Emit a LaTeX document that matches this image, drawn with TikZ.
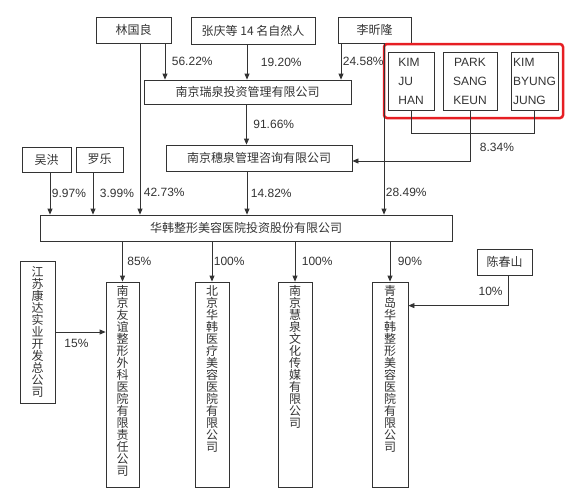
\documentclass[tikz,border=0pt]{standalone}
\usepackage{fontspec}
\setmainfont{Liberation Sans}
\newfontfamily\cjk{Noto Sans CJK SC}
\usetikzlibrary{arrows.meta}
\definecolor{linegray}{RGB}{51,51,51}
\definecolor{markred}{RGB}{230,30,35}

\begin{document}
\begin{tikzpicture}[x=1pt, y=-1pt, >={Triangle[length=6pt,width=5pt]},
    box/.style={draw=linegray, line width=0.8pt, inner sep=0pt, text=linegray, font=\cjk\fontsize{12}{12}\selectfont},
    namebox/.style={draw=linegray, line width=0.8pt, inner sep=0pt, text=linegray, font=\fontsize{12}{19}\selectfont, minimum height=58pt},
    vtext/.style={inner sep=0pt, align=center, text=linegray, font=\cjk\fontsize{12}{12}\selectfont},
    pct/.style={text=linegray, font=\fontsize{12}{12}\selectfont, inner sep=1.5pt},
    ln/.style={draw=linegray, line width=0.8pt},
    arr/.style={->, draw=linegray, line width=0.8pt}]
      \useasboundingbox (0,0) rectangle (567,501);

      % Top shareholders
      \node[box, minimum width=75pt, minimum height=26pt] (lgl) at (133.5,30) {林国良};
      \node[box, minimum width=124pt, minimum height=27pt] (zq) at (253,30.5) {张庆等 14 名自然人};
      \node[box, minimum width=73pt, minimum height=26pt] (lxl) at (374.5,30) {李昕隆};

      % Korean shareholders
      \node[namebox, minimum width=46pt, align=left] (kjh) at (411,81) {KIM\\JU\\HAN};
      \node[namebox, minimum width=54pt, align=center] (psk) at (470,81) {PARK\\SANG\\KEUN};
      \node[namebox, minimum width=47pt, align=left] (kbj) at (534.5,81) {KIM\\BYUNG\\JUNG};
      \draw[markred, line width=2.5pt, rounded corners=3pt] (384,44) rectangle (563,118);

      % Holding companies
      \node[box, minimum width=207pt, minimum height=24pt] (rq) at (247.5,92) {南京瑞泉投资管理有限公司};
      \node[box, minimum width=186pt, minimum height=26pt] (sq) at (259,158) {南京穗泉管理咨询有限公司};
      \node[box, minimum width=49pt, minimum height=25pt] (wh) at (46.5,159.5) {吴洪};
      \node[box, minimum width=47pt, minimum height=25pt] (ll) at (99.5,159.5) {罗乐};

      % Main company
      \node[box, minimum width=412pt, minimum height=26pt] (hh) at (246,228) {华韩整形美容医院投资股份有限公司};

      % Subsidiaries
      \node[box, minimum width=35pt, minimum height=142pt, align=center] (js) at (37.5,332) {江\\苏\\康\\达\\实\\业\\开\\发\\总\\公\\司};
      \node[box, minimum width=33pt, minimum height=205pt] (yy) at (122.5,384.5) {};
      \node[box, minimum width=34pt, minimum height=205pt] (bj) at (212,384.5) {};
      \node[box, minimum width=34pt, minimum height=205pt] (hq) at (295,384.5) {};
      \node[box, minimum width=36pt, minimum height=205pt] (qd) at (390,384.5) {};
      \node[box, minimum width=55pt, minimum height=26pt] (cs) at (504.5,262) {陈春山};
      \node[vtext, anchor=north] (yyt) at ([yshift=-4pt]yy.north) {南\\京\\友\\谊\\整\\形\\外\\科\\医\\院\\有\\限\\责\\任\\公\\司};
      \node[vtext, anchor=north] (bjt) at ([yshift=-4pt]bj.north) {北\\京\\华\\韩\\医\\疗\\美\\容\\医\\院\\有\\限\\公\\司};
      \node[vtext, anchor=north] (hqt) at ([yshift=-4pt]hq.north) {南\\京\\慧\\泉\\文\\化\\传\\媒\\有\\限\\公\\司};
      \node[vtext, anchor=north] (qdt) at ([yshift=-4pt]qd.north) {青\\岛\\华\\韩\\整\\形\\美\\容\\医\\院\\有\\限\\公\\司};

      % Shares of Ruiquan
      \draw[arr] ([xshift=31.5pt]lgl.south) -- ([xshift=31.5pt]lgl.south |- rq.north) node[pct, midway, right, xshift=5pt] {56.22\%};
      \draw[arr] ([xshift=-6pt]zq.south) -- ([xshift=-6pt]zq.south |- rq.north) node[pct, midway, right, xshift=12pt] {19.20\%};
      \draw[arr] ([xshift=-33.5pt]lxl.south) -- ([xshift=-33.5pt]lxl.south |- rq.north) node[pct, midway, right] {24.58\%};
      \draw[arr] ([xshift=-1pt]rq.south) -- ([xshift=-1pt]rq.south |- sq.north) node[pct, midway, right, xshift=5pt] {91.66\%};

      % Korean shares of Suiquan
      \draw[ln] (kjh.south) -- ++(0,23) -| (kbj.south);
      \draw[arr] (psk.south) |- ([yshift=-3pt]sq.east) node[pct, pos=0.37, right, xshift=8pt] {8.34\%};

      % Shares of the main company
      \draw[arr] ([xshift=3.5pt]wh.south) -- ([xshift=3.5pt]wh.south |- hh.north) node[pct, midway, right] {9.97\%};
      \draw[arr] ([xshift=-6.5pt]ll.south) -- ([xshift=-6.5pt]ll.south |- hh.north) node[pct, midway, right, xshift=5pt] {3.99\%};
      \draw[arr] ([xshift=6.5pt]lgl.south) -- ([xshift=6.5pt]lgl.south |- hh.north) node[pct, pos=0.87, right, xshift=2pt] {42.73\%};
      \draw[arr] ([xshift=-12pt]sq.south) -- ([xshift=-12pt]sq.south |- hh.north) node[pct, midway, right, xshift=2pt] {14.82\%};
      \draw[arr] ([xshift=9.5pt]lxl.south) -- ([xshift=9.5pt]lxl.south |- hh.north) node[pct, pos=0.87, right] {28.49\%};

      % Subsidiary shares
      \draw[arr] (hh.south -| yy.north) -- (yy.north) node[pct, midway, right, xshift=3pt] {85\%};
      \draw[arr] (hh.south -| bj.north) -- (bj.north) node[pct, midway, right] {100\%};
      \draw[arr] (hh.south -| hq.north) -- (hq.north) node[pct, midway, right, xshift=5pt] {100\%};
      \draw[arr] (hh.south -| qd.north) -- (qd.north) node[pct, midway, right, xshift=6pt] {90\%};
      \draw[arr] (js.east) -- (js.east -| yy.west) node[pct, pos=0.42, below, yshift=-5pt] {15\%};
      \draw[arr] ([xshift=3.5pt]cs.south) |- ([yshift=-24pt]qd.north east) node[pct, pos=0.26, left, xshift=-3.5pt] {10\%};
    \end{tikzpicture}
\end{document}
